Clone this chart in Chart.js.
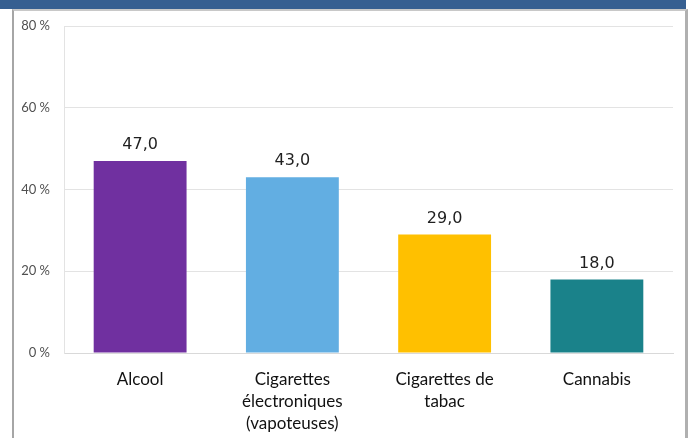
<!DOCTYPE html>
<html>
<head>
<meta charset="utf-8">
<script src="https://cdn.jsdelivr.net/npm/chart.js@4/dist/chart.umd.min.js"></script>
<style>
  html, body { margin: 0; padding: 0; background: #ffffff; }
  #wrap { position: relative; width: 688px; height: 438px; overflow: hidden; }
  #header { position: absolute; left: 0; top: 0; width: 686px; height: 9px; background: #365F91; }
  #frame { position: absolute; left: 12px; top: 9px; width: 671px; height: 440px;
           border-left: 2px solid #A6A6A6; border-right: 3px solid #B0B0B0; border-top: 2px solid #C8C8C8; }
  #chart { position: absolute; left: 0; top: 0; }
</style>
</head>
<body>
<div id="wrap">
  <div id="header"></div>
  <div id="frame"></div>
  <canvas id="chart" width="688" height="438"></canvas>
</div>
<script>
// Categories and values
var categories = ['Alcool', ['Cigarettes', 'électroniques', '(vapoteuses)'], ['Cigarettes de', 'tabac'], 'Cannabis'];
var values = [47.0, 43.0, 29.0, 18.0];
var barColors = ['#7030A0', '#62AEE2', '#FFC000', '#1A828A'];
var yTicks = [0, 20, 40, 60, 80];

// Draws the value above each bar, with a decimal comma
var valueLabels = {
    id: 'valueLabels',
    afterDatasetsDraw: function (chart) {
        var ctx = chart.ctx;
        var meta = chart.getDatasetMeta(0);
        ctx.save();
        ctx.font = '16px "DejaVu Sans"';
        ctx.fillStyle = '#1f1f1f';
        ctx.textAlign = 'center';
        ctx.textBaseline = 'bottom';
        meta.data.forEach(function (bar, i) {
            ctx.fillText(values[i].toFixed(1).replace('.', ','), bar.x, bar.y - 8);
        });
        ctx.restore();
    }
};

new Chart(document.getElementById('chart'), {
    type: 'bar',
    data: {
        labels: categories,
        datasets: [{
            data: values,
            backgroundColor: barColors,
            barPercentage: 0.61,
            categoryPercentage: 1
        }]
    },
    options: {
        responsive: false,
        animation: false,
        layout: { padding: { top: 26, right: 15, left: 0, bottom: 0 } },
        plugins: { legend: { display: false }, tooltip: { enabled: false } },
        scales: {
            x: {
                grid: { display: false, drawTicks: false },
                border: { color: '#D9D9D9' },
                ticks: {
                    color: '#111111',
                    padding: 15,
                    maxRotation: 0,
                    autoSkip: false,
                    font: { family: 'Lato', size: 17, lineHeight: 1.3 }
                },
                afterFit: function (s) { s.height = 85; }
            },
            y: {
                min: 0,
                max: 80,
                afterBuildTicks: function (s) { s.ticks = yTicks.map(function (v) { return { value: v }; }); },
                grid: { color: '#E3E3E3', drawTicks: false },
                border: { color: '#E3E3E3' },
                ticks: {
                    color: '#505050',
                    padding: 14,
                    font: { family: 'Lato', size: 13 },
                    callback: function (v) { return v + ' %'; }
                },
                afterFit: function (s) { s.width = 64; }
            }
        }
    },
    plugins: [valueLabels]
});
</script>
</body>
</html>
